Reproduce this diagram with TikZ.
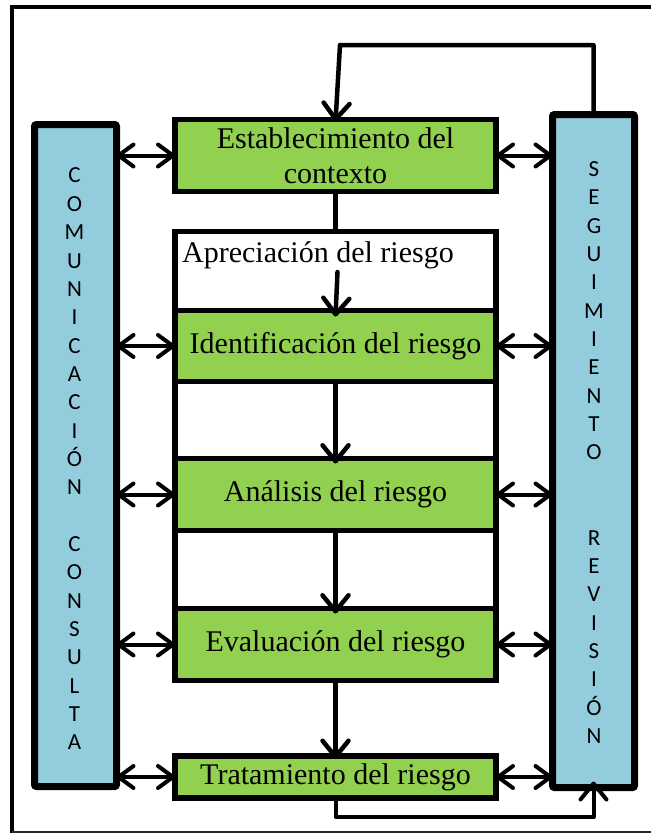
\documentclass[tikz,border=0pt]{standalone}
\usepackage{fontspec}
\setmainfont{Liberation Serif}
\newfontfamily\colfont{Carlito}
\usetikzlibrary{arrows.meta}
\definecolor{boxgreen}{HTML}{92D050}
\definecolor{boxblue}{HTML}{93CDDD}
\tikzset{
  stepbox/.style={draw=black, line width=5.5pt, fill=boxgreen, minimum width=321pt,
    inner sep=0pt, outer sep=0pt, font=\fontsize{30}{35}\selectfont, align=center},
  groupbox/.style={draw=black, line width=5.5pt, fill=white, minimum width=321pt,
    inner sep=0pt, outer sep=0pt},
  sidebox/.style={draw=black, line width=7pt, fill=boxblue, rounded corners=2pt,
    inner sep=0pt, outer sep=0pt, minimum width=82pt},
  sidetext/.style={font=\colfont\fontsize{23}{28.35}\selectfont, align=center, inner sep=0pt},
  link/.style={line width=4.5pt, line cap=round, line join=round},
  down/.style={link, -{Straight Barb[round,length=16pt,width=26pt]}},
  both/.style={line width=4pt, line cap=round, line join=round,
    {Straight Barb[round,length=15pt,width=22pt]}-{Straight Barb[round,length=15pt,width=22pt]}}
}
\begin{document}
\begin{tikzpicture}[x=1pt,y=-1pt]
\useasboundingbox (0,0) rectangle (651,835);
% outer frame
\draw[line width=4pt] (651,7) -- (12,7) -- (12,833);
\draw[line width=1.2pt, black!85] (12,832) -- (651,832);

% side boxes
\node[sidebox, minimum height=662pt] (L) at (75.5,455.5) {};
\node[sidebox, minimum height=673pt] (S) at (593.5,451) {};
\node[sidetext] (Ltxt) at (74.5,459) {C\\O\\M\\U\\N\\I\\C\\A\\C\\I\\Ó\\N\\~\\C\\O\\N\\S\\U\\L\\T\\A};
\node[sidetext] (Stxt) at (594,452.5) {S\\E\\G\\U\\I\\M\\I\\E\\N\\T\\O\\~\\~\\R\\E\\V\\I\\S\\I\\Ó\\N};

% central boxes
\node[groupbox, minimum height=448pt] (A) at (335.5,455.5) {};
\node[stepbox, minimum height=72pt] (E) at (335.5,155.5) {Establecimiento del\\contexto};
\node[stepbox, minimum height=71pt] (I) at (335.5,346) {Identificación del riesgo};
\node[stepbox, minimum height=72pt] (An) at (335.5,494.5) {Análisis del riesgo};
\node[stepbox, minimum height=72pt] (Ev) at (335.5,644.5) {Evaluación del riesgo};
\node[stepbox, minimum height=42pt] (T) at (335.5,777) {Tratamiento del riesgo};
\node[anchor=base west, inner sep=0pt, font=\fontsize{30}{35}\selectfont] (Atxt) at (182,262) {Apreciación del riesgo};

% flow
\coordinate (fbtop) at (340,45);
\coordinate (ap) at (337.5,272);
\coordinate (fbbot) at (338,817);
\draw[down] (S.north) |- (fbtop) -- ([yshift=-2pt]E.north);
\draw[link] (E.south) -- (A.north);
\draw[down] (ap) -- ([yshift=-6pt]I.north);
\draw[down] (I.south) -- ([yshift=-5pt]An.north);
\draw[down] (An.south) -- ([yshift=-5pt]Ev.north);
\draw[down] (Ev.south) -- ([yshift=-3pt]T.north);
\draw[down, line width=4pt] (T.south) |- (fbbot) -| ([yshift=6pt]S.south);

% double arrows
\foreach \b in {E,I,An,Ev,T}{
  \draw[both] (\b.west -| L.east) -- (\b.west);
  \draw[both] (\b.east) -- (\b.east -| S.west);
}
\end{tikzpicture}
\end{document}
